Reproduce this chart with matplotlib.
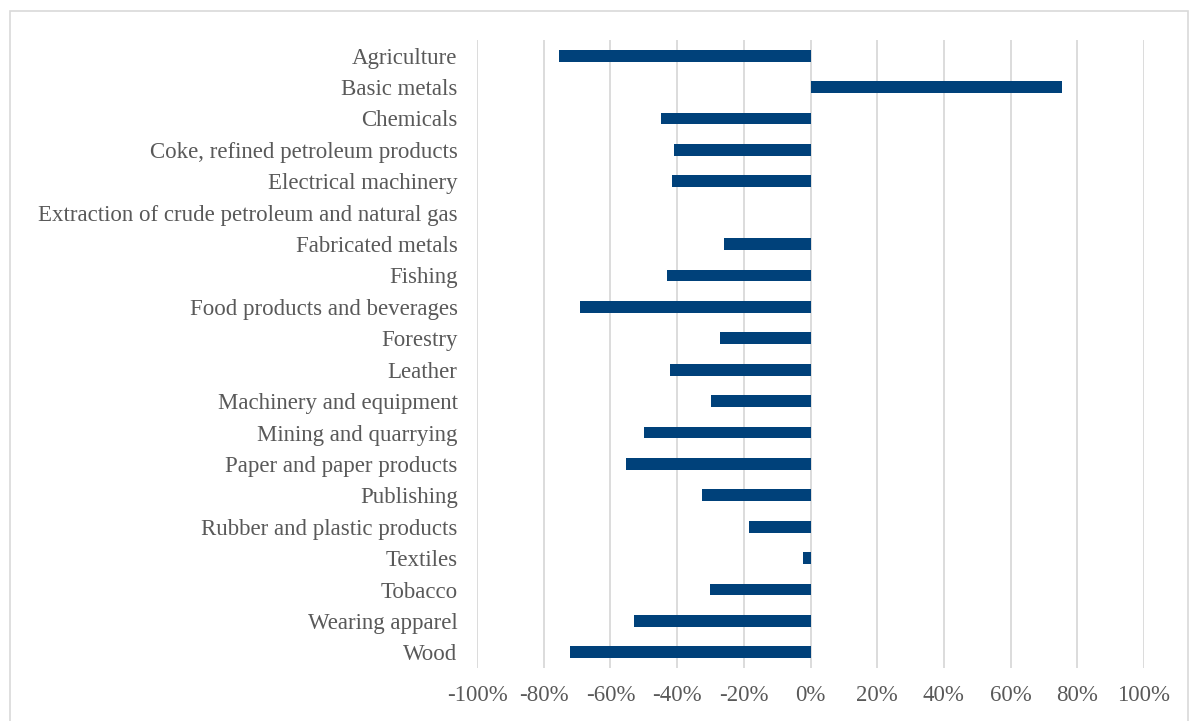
import matplotlib
matplotlib.use("Agg")
import matplotlib.pyplot as plt
import matplotlib.patches as patches
from matplotlib.ticker import FuncFormatter, MultipleLocator

categories = ["Agriculture", "Basic metals", "Chemicals", "Coke, refined petroleum products",
              "Electrical machinery", "Extraction of crude petroleum and natural gas",
              "Fabricated metals", "Fishing", "Food products and beverages", "Forestry",
              "Leather", "Machinery and equipment", "Mining and quarrying",
              "Paper and paper products", "Publishing", "Rubber and plastic products",
              "Textiles", "Tobacco", "Wearing apparel", "Wood"]
values = [-0.753, 0.753, -0.447, -0.408, -0.414, 0.0, -0.258, -0.429, -0.690, -0.270,
          -0.420, -0.297, -0.498, -0.552, -0.324, -0.183, -0.023, -0.300, -0.530, -0.720]

text_col = "#595959"
grid_col = "#d9d9d9"
bar_col = "#00417a"

plt.rcParams['font.family'] = ['Liberation Serif', 'DejaVu Serif']

fig = plt.figure(figsize=(11.89, 7.21), dpi=100)
ax = fig.add_axes([477/1189, 1 - 668/721, (1144-477)/1189, (668-40)/721])

ypos = list(range(len(categories)))
ax.barh(ypos, values, height=0.38, color=bar_col, zorder=3)
ax.set_ylim(len(categories) - 0.5, -0.5)
ax.set_xlim(-1, 1)
ax.set_yticks(ypos)
ax.set_yticklabels(categories)
ax.xaxis.set_major_locator(MultipleLocator(0.2))
ax.xaxis.set_major_formatter(FuncFormatter(lambda v, p: "%d%%" % round(v * 100)))
ax.grid(axis='x', color=grid_col, linewidth=1.3, zorder=0)
for s in ax.spines.values():
    s.set_visible(False)
ax.tick_params(axis='y', length=0, pad=14, labelsize=16.5, labelcolor=text_col)
ax.tick_params(axis='x', length=0, pad=12, labelsize=16.5, labelcolor=text_col)

# outer border
fig.patches.append(patches.Rectangle((10/1189, -0.01), (1188-10)/1189, 1 - 11/721 + 0.01,
                                     transform=fig.transFigure, fill=False,
                                     edgecolor=grid_col, linewidth=1.2))

fig.savefig("out.png", dpi=100)
